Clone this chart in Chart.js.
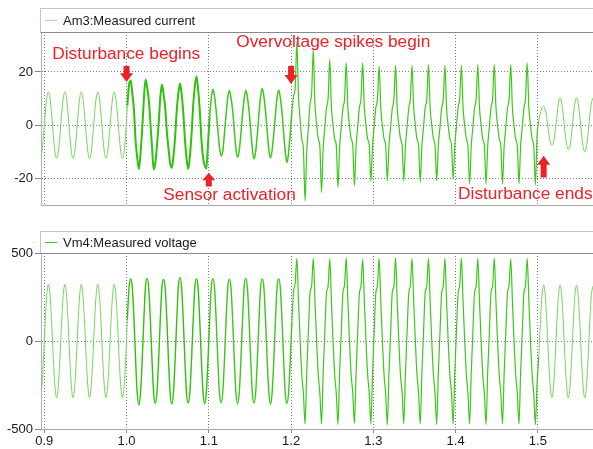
<!DOCTYPE html>
<html>
<head>
<meta charset="utf-8">
<script src="https://cdn.jsdelivr.net/npm/chart.js@4.4.1/dist/chart.umd.min.js"></script>
<style>
  body { margin: 0; background: #fff; width: 593px; height: 449px; overflow: hidden; position: relative; }
  canvas { position: absolute; left: 0; }
  #current-chart { top: 0; }
  #voltage-chart { top: 220px; }
</style>
</head>
<body>
<canvas id="current-chart" width="593" height="215"></canvas>
<canvas id="voltage-chart" width="593" height="229"></canvas>
<script>
// sample grid: one value every 2 ms, first sample at 0.895 s (10 samples per 50 Hz cycle)
const t0 = 0.895;
const dt = 0.002;

// Am3 current, one row per cycle (row start time in the comment)
const currentVals = [
  -12.5, -10.1, -3.9, 3.9, 10.1, 12.5, 10.1, 3.9, -3.9, -10.1,   // 0.895
  -12.4, -10.1, -3.9, 3.9, 10.1, 12.6, 10.1, 3.9, -3.9, -10.1,   // 0.915
  -12.4, -10.1, -3.9, 3.9, 10.1, 12.5, 10.1, 3.9, -3.9, -10.1,   // 0.935
  -12.5, -10.1, -3.9, 3.9, 10.1, 12.5, 10.1, 3.9, -3.9, -10.1,   // 0.955
  -12.4, -10.1, -3.9, 3.9, 10.1, 12.5, 10.1, 3.9, -3.9, -10.1,   // 0.975
  -12.4, -10.3, -3.2, 7.4, 15.1, 16.8, 12.0, 5.8, -5.9, -12.2,   // 0.995 disturbance
  -16.4, -10.6, -1.5, 9.4, 17.2, 14.2, 9.6, 0.8, -8.4, -16.6,    // 1.015
  -14.1, -7.6, 0.7, 10.3, 15.3, 11.6, 6.4, -2.4, -8.8, -14.4,    // 1.035
  -16.0, -11.7, -4.4, 5.6, 12.1, 15.7, 11.5, 4.6, -5.4, -12.6,   // 1.055
  -16.4, -11.6, -3.4, 7.4, 14.6, 18.4, 13.5, 5.6, -5.3, -12.1,   // 1.075
  -15.2, -16.2, -7.0, 3.2, 10.2, 13.5, 10.8, 5.2, -1.8, -8.4,    // 1.095 sensor
  -11.5, -9.6, -3.1, 4.2, 10.4, 13.0, 10.2, 5.6, -2.1, -8.9,     // 1.115
  -12.0, -9.4, -3.2, 4.1, 10.1, 13.1, 10.4, 5.1, -2.2, -9.1,     // 1.135
  -12.7, -9.6, -3.4, 4.5, 11.0, 13.8, 10.6, 5.0, -2.4, -9.4,     // 1.155
  -12.3, -9.2, -3.0, 4.2, 10.5, 13.2, 10.1, 4.6, -3.0, -10.2,    // 1.175
  -14.0, -10.2, -3.1, 5.0, 11.0, 14.0, 31.0, 11.0, 2.2, -5.2,    // 1.195 spikes
  -9.0, -28.3, -10.0, -1.0, 8.0, 12.0, 28.4, 8.0, 0.5, -5.0,     // 1.215
  -8.0, -25.2, -8.5, -1.0, 6.5, 10.0, 24.7, 7.0, 0.2, -5.2,      // 1.235
  -7.8, -23.3, -8.0, -0.8, 6.4, 9.8, 23.4, 6.8, 0.0, -5.0,       // 1.255
  -7.6, -22.7, -7.8, -0.6, 6.6, 10.1, 23.4, 6.9, 0.1, -5.1,      // 1.275
  -7.4, -20.8, -7.6, -0.5, 6.5, 9.9, 22.2, 6.6, -0.1, -5.0,      // 1.295
  -7.5, -20.8, -7.7, -0.7, 6.3, 9.8, 22.4, 6.7, 0.0, -5.1,       // 1.315
  -7.6, -20.8, -7.8, -0.6, 6.4, 10.0, 22.4, 6.8, 0.1, -5.2,      // 1.335
  -7.7, -21.4, -7.9, -0.8, 6.5, 9.9, 22.8, 6.7, 0.0, -5.0,       // 1.355
  -7.5, -20.8, -7.6, -0.6, 6.4, 9.8, 22.4, 6.6, -0.1, -5.1,      // 1.375
  -7.4, -20.2, -7.5, -0.5, 6.5, 10.0, 22.4, 6.8, 0.0, -5.0,      // 1.395
  -7.8, -22.0, -7.9, -0.7, 6.4, 9.9, 22.8, 6.7, 0.1, -5.2,       // 1.415
  -7.7, -22.0, -7.8, -0.6, 6.5, 10.0, 22.8, 6.8, 0.0, -5.1,      // 1.435
  -7.8, -22.0, -7.9, -0.8, 6.4, 9.9, 22.8, 6.7, -0.1, -5.2,      // 1.455
  -7.7, -22.0, -7.8, -0.7, 6.5, 10.1, 23.4, 6.9, 0.0, -5.1,      // 1.475
  -7.9, -22.4, -4.0, 1.5, 4.5, 6.5, 7.2, 5.8, 2.2, -2.5,         // 1.495 end
  -6.2, -7.5, -6.4, -2.4, 3.0, 8.3, 10.3, 8.3, 3.2, -2.8,        // 1.515
  -7.3, -9.0, -7.9, -3.0, 3.2, 8.4, 10.3, 8.3, 3.1, -3.0,        // 1.535
  -8.1, -10.0, -8.1, -3.1, 3.2, 8.3, 10.2                        // 1.555
];

// Vm4 voltage, same grid
const voltageVals = [
  -322, -260, -100, 100, 260, 322, 260, 100, -100, -260,   // 0.895
  -322, -260, -100, 100, 260, 322, 260, 100, -100, -260,   // 0.915
  -322, -260, -100, 100, 260, 322, 260, 100, -100, -260,   // 0.935
  -322, -260, -100, 100, 260, 322, 260, 100, -100, -260,   // 0.955
  -322, -260, -100, 100, 260, 322, 260, 100, -100, -260,   // 0.975
  -322, -262, -98, 125, 300, 352, 305, 128, -105, -300,    // 0.995
  -364, -292, -112, 118, 312, 356, 296, 112, -116, -302,   // 1.015
  -354, -288, -106, 122, 308, 350, 300, 116, -112, -298,   // 1.035
  -358, -294, -110, 116, 314, 360, 298, 110, -118, -304,   // 1.055
  -352, -290, -104, 120, 306, 352, 302, 114, -110, -296,   // 1.075
  -356, -292, -108, 118, 310, 354, 298, 112, -114, -300,   // 1.095
  -350, -288, -106, 120, 306, 350, 300, 116, -112, -298,   // 1.115
  -356, -294, -110, 116, 312, 356, 296, 110, -116, -302,   // 1.135
  -352, -290, -104, 122, 308, 352, 302, 114, -110, -296,   // 1.155
  -358, -292, -108, 118, 310, 354, 298, 112, -114, -302,   // 1.175
  -356, -290, -104, 110, 280, 330, 470, 230, 4, -190,      // 1.195
  -300, -472, -180, 52, 272, 315, 470, 232, 2, -188,       // 1.215
  -298, -470, -184, 48, 270, 312, 468, 228, -2, -192,      // 1.235
  -302, -474, -178, 50, 274, 318, 472, 230, 0, -190,       // 1.255
  -296, -468, -182, 54, 268, 314, 466, 234, 4, -186,       // 1.275
  -300, -472, -180, 50, 272, 316, 470, 230, 0, -190,       // 1.295
  -304, -476, -176, 46, 276, 312, 474, 226, -4, -194,      // 1.315
  -298, -470, -184, 52, 270, 318, 468, 232, 2, -188,       // 1.335
  -300, -472, -180, 50, 272, 315, 471, 230, 0, -190,       // 1.355
  -302, -474, -178, 48, 274, 313, 469, 228, -2, -192,      // 1.375
  -296, -470, -182, 54, 270, 317, 472, 234, 4, -186,       // 1.395
  -300, -472, -180, 50, 272, 315, 470, 230, 0, -190,       // 1.415
  -304, -474, -176, 46, 276, 312, 473, 226, -4, -194,      // 1.435
  -298, -470, -184, 52, 270, 318, 467, 232, 2, -188,       // 1.455
  -300, -472, -180, 50, 272, 315, 470, 230, 0, -190,       // 1.475
  -302, -474, -240, -90, 100, 260, 318, 258, 98, -100,     // 1.495
  -260, -322, -260, -100, 99, 258, 318, 258, 98, -100,     // 1.515
  -260, -322, -260, -100, 99, 258, 318, 258, 98, -100,     // 1.535
  -260, -322, -260, -100, 99, 258, 312                     // 1.555
];

const timeTicks = [0.9, 1.0, 1.1, 1.2, 1.3, 1.4, 1.5];
const currentTicks = [-20, 0, 20];
const voltageTicks = [-500, 0, 500];

// red notes on the current panel (text left edge / middle, in data units)
const noteLabels = ['Disturbance begins', 'Overvoltage spikes begin', 'Sensor activation', 'Disturbance ends'];
const noteTimes = [0.9097, 1.1333, 1.0446, 1.4030];
const noteLevels = [26.5, 31.0, -26.2, -25.8];
// arrows: x, tip value, tail value
const arrowTimes = [1.0, 1.2, 1.1, 1.507];
const arrowTips = [16.2, 15.5, -17.8, -11.4];
const arrowTails = [22.2, 22.2, -23.0, -19.6];

// line look per stretch of the record
const regimeEdges = [1.0, 1.1, 1.2, 1.5];
const regimeColors = ['#72d55c', '#2ec20a', '#3cc71a', '#3cc81a', '#72d55c'];
const currentWidths = [1, 2.0, 1.5, 1.2, 1];
const voltageWidths = [1, 1.4, 1.4, 1.2, 1];

function regimeOf(t) {
  let i = 0;
  while (i < regimeEdges.length && t >= regimeEdges[i]) i++;
  return i;
}

const toPoints = vals => vals.map((v, i) => ({ x: t0 + i * dt, y: v }));

const FONT = '"Liberation Sans", Arial, sans-serif';

// legend strip and frame lines, drawn like the scope panel
const panelFrame = {
  id: 'panelFrame',
  afterDraw(chart, args, opts) {
    const { ctx, chartArea: a } = chart;
    ctx.save();
    ctx.lineWidth = 1;
    ctx.strokeStyle = '#c4c4c4';
    ctx.beginPath();
    ctx.moveTo(a.left - 0.5, opts.stripTop + 0.5);
    ctx.lineTo(a.right, opts.stripTop + 0.5);
    ctx.moveTo(a.left - 0.5, opts.stripTop);
    ctx.lineTo(a.left - 0.5, a.top);
    ctx.stroke();
    ctx.strokeStyle = '#8a8a8a';
    ctx.beginPath();
    ctx.moveTo(a.left - 0.5, a.top + 0.5);
    ctx.lineTo(a.right, a.top + 0.5);
    ctx.stroke();

    const mid = (opts.stripTop + a.top) / 2;
    ctx.strokeStyle = opts.swatch;
    ctx.beginPath();
    ctx.moveTo(a.left + 4, mid + 0.5);
    ctx.lineTo(a.left + 16, mid + 0.5);
    ctx.stroke();
    ctx.fillStyle = '#1a1a1a';
    ctx.font = '13px ' + FONT;
    ctx.textBaseline = 'middle';
    ctx.fillText(chart.data.datasets[0].label, a.left + 22, mid + 1);
    ctx.restore();
  }
};

const noteLayer = {
  id: 'noteLayer',
  afterDraw(chart) {
    const { ctx, scales: { x, y } } = chart;
    ctx.save();
    ctx.fillStyle = '#ec2228';
    ctx.font = '17.3px ' + FONT;
    ctx.textBaseline = 'middle';
    noteLabels.forEach((txt, i) => {
      ctx.fillText(txt, x.getPixelForValue(noteTimes[i]), y.getPixelForValue(noteLevels[i]));
    });
    arrowTimes.forEach((t, i) => {
      const px = x.getPixelForValue(t);
      const tip = y.getPixelForValue(arrowTips[i]);
      const tail = y.getPixelForValue(arrowTails[i]);
      const dir = tail < tip ? 1 : -1; // 1 = pointing down
      const len = Math.abs(tip - tail);
      const head = Math.min(9, len * 0.55);
      const neck = tip - dir * head;
      ctx.beginPath();
      ctx.moveTo(px, tip);
      ctx.lineTo(px - 6.5, neck);
      ctx.lineTo(px - 3, neck);
      ctx.lineTo(px - 3, tail);
      ctx.lineTo(px + 3, tail);
      ctx.lineTo(px + 3, neck);
      ctx.lineTo(px + 6.5, neck);
      ctx.closePath();
      ctx.fill();
    });
    ctx.restore();
  }
};

function makeDataset(label, vals, widths) {
  return {
    label: label,
    data: toPoints(vals),
    borderColor: regimeColors[0],
    borderWidth: 1,
    pointRadius: 0,
    cubicInterpolationMode: 'monotone',
    segment: {
      borderColor: c => regimeColors[regimeOf(c.p0.parsed.x)],
      borderWidth: c => widths[regimeOf(c.p0.parsed.x)]
    }
  };
}

function timeAxis(showLabels) {
  return {
    type: 'linear',
    min: 0.896,
    max: 1.567,
    afterBuildTicks: s => { s.ticks = timeTicks.map(v => ({ value: v })); },
    afterFit: s => { s.height = showLabels ? 20 : 0; },
    ticks: {
      display: showLabels,
      autoSkip: false,
      maxRotation: 0,
      padding: 1,
      color: '#1a1a1a',
      font: { family: FONT, size: 13 },
      callback: v => v.toFixed(1)
    },
    grid: { color: '#7c7c7c', drawTicks: showLabels, tickLength: 4, tickColor: '#8a8a8a' },
    border: { display: true, color: '#a8a8a8', dash: [1, 2] }
  };
}

function valueAxis(lo, hi, tickList) {
  return {
    min: lo,
    max: hi,
    afterBuildTicks: s => { s.ticks = tickList.map(v => ({ value: v })); },
    afterFit: s => { s.width = 41; },
    ticks: { color: '#1a1a1a', padding: 2, font: { family: FONT, size: 13 } },
    grid: { color: '#7c7c7c', tickLength: 6, tickColor: '#8a8a8a' },
    border: { display: true, color: '#b4b4b4', dash: [1, 2] }
  };
}

// ---- CURRENT PANEL ----
new Chart(document.getElementById('current-chart'), {
  type: 'line',
  data: { datasets: [makeDataset('Am3:Measured current', currentVals, currentWidths)] },
  options: {
    responsive: false,
    animation: false,
    layout: { padding: { top: 32, bottom: 9, left: 0, right: 0 } },
    plugins: {
      legend: { display: false },
      tooltip: { enabled: false },
      panelFrame: { stripTop: 8, swatch: '#a6e29c' }
    },
    scales: { x: timeAxis(false), y: valueAxis(-30, 35, currentTicks) }
  },
  plugins: [panelFrame, noteLayer]
});

// ---- VOLTAGE PANEL ----
new Chart(document.getElementById('voltage-chart'), {
  type: 'line',
  data: { datasets: [makeDataset('Vm4:Measured voltage', voltageVals, voltageWidths)] },
  options: {
    responsive: false,
    animation: false,
    layout: { padding: { top: 33, bottom: 0, left: 0, right: 0 } },
    plugins: {
      legend: { display: false },
      tooltip: { enabled: false },
      panelFrame: { stripTop: 11, swatch: '#3fcc22' }
    },
    scales: { x: timeAxis(true), y: valueAxis(-500, 500, voltageTicks) }
  },
  plugins: [panelFrame]
});
</script>
</body>
</html>
